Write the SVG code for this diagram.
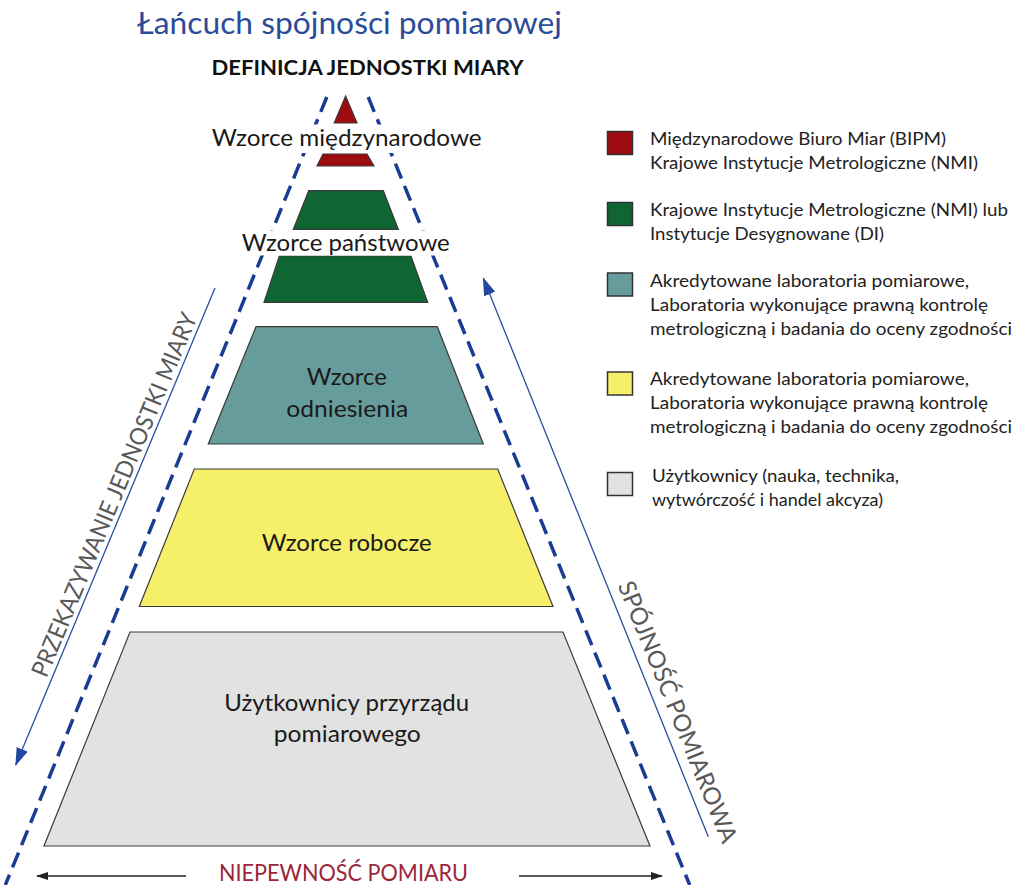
<svg xmlns="http://www.w3.org/2000/svg" width="1013" height="885" viewBox="0 0 1013 885">
<defs>
<style>
text{font-family:Lato,'Open Sans','Liberation Sans',sans-serif}
.lbl{font-size:24px;fill:#1a1a1a;text-anchor:middle}
.leg{font-size:18px;fill:#222}
.shape{stroke:#3a3a3a;stroke-width:1.2}
.box{stroke:#333;stroke-width:1.5}
.dash{fill:none;stroke:#1a3d94;stroke-width:3.5;stroke-dasharray:16 8}
.thin{fill:none;stroke:#2b4f9f;stroke-width:1.3}
.blk{fill:none;stroke:#222;stroke-width:1.5}
.side{font-size:24px;fill:#595959;text-anchor:middle}
.red{fill:#9e0b0f}.green{fill:#0f6632}.teal{fill:#679c9c}.yellow{fill:#f6ef6a}.gray{fill:#e2e2e2}
</style>
<marker id="ah" viewBox="0 0 18 12" refX="17" refY="6" markerWidth="18" markerHeight="12" markerUnits="userSpaceOnUse" orient="auto"><path d="M0,0 L18,6 L0,12 z" fill="#1f47a0"/></marker>
<marker id="ahk" viewBox="0 0 12 8" refX="11" refY="4" markerWidth="12" markerHeight="8" markerUnits="userSpaceOnUse" orient="auto"><path d="M0,0 L12,4 L0,8 z" fill="#222"/></marker>
</defs>
<rect width="1013" height="885" fill="#fff"/>

<g id="connectors">
<path class="dash" d="M326.8,97 L5.3,885"/>
<path class="dash" d="M368.2,97 L689.7,885"/>
<path class="thin" d="M215,288 L15.7,765" marker-end="url(#ah)"/>
<path class="thin" d="M708.3,836.7 L483.3,278.3" marker-end="url(#ah)"/>
<path class="blk" d="M186,876 L37,876" marker-end="url(#ahk)"/>
<path class="blk" d="M519,876 L662,876" marker-end="url(#ahk)"/>
</g>

<g id="titles">
<text x="349.5" y="34" font-size="31" fill="#2b4c9a" text-anchor="middle" textLength="425" lengthAdjust="spacingAndGlyphs">Łańcuch spójności pomiarowej</text>
<text x="367.5" y="75" font-size="21" font-weight="bold" fill="#111" text-anchor="middle" textLength="312" lengthAdjust="spacingAndGlyphs">DEFINICJA JEDNOSTKI MIARY</text>
</g>

<g id="node-international">
<polygon class="shape red" points="345.6,96 357,123 334.2,123"/>
<polygon class="shape red" points="323,154 367,154 374,166 317,166"/>
<rect x="200" y="124.5" width="295" height="28.5" fill="#fff"/>
<text class="lbl" x="346.7" y="146" textLength="270" lengthAdjust="spacingAndGlyphs">Wzorce międzynarodowe</text>
</g>

<g id="node-national">
<polygon class="shape green" points="308.7,190.7 383.3,190.7 398.3,229.3 293.3,229.3"/>
<polygon class="shape green" points="279.3,256 411,256 427.7,302.3 264,302.3"/>
<rect x="230" y="230.5" width="235" height="25" fill="#fff"/>
<text class="lbl" x="345.8" y="251" textLength="208" lengthAdjust="spacingAndGlyphs">Wzorce państwowe</text>
</g>

<g id="node-reference">
<polygon class="shape teal" points="256,326.7 437.3,326.7 483.3,444 208.3,444"/>
<text class="lbl" x="346.8" y="385" textLength="80" lengthAdjust="spacingAndGlyphs">Wzorce</text>
<text class="lbl" x="347.2" y="416.5" textLength="122" lengthAdjust="spacingAndGlyphs">odniesienia</text>
</g>

<g id="node-working">
<polygon class="shape yellow" points="194.3,469 497.7,469 553,606.5 139.3,606.5"/>
<text class="lbl" x="346.7" y="550.7" textLength="170" lengthAdjust="spacingAndGlyphs">Wzorce robocze</text>
</g>

<g id="node-users">
<polygon class="shape gray" points="130,632 563,632 650,846 44,846"/>
<text class="lbl" x="346.7" y="710.7" textLength="245" lengthAdjust="spacingAndGlyphs">Użytkownicy przyrządu</text>
<text class="lbl" x="347.3" y="741.7" textLength="147" lengthAdjust="spacingAndGlyphs">pomiarowego</text>
</g>

<g id="side-labels">
<text class="side" transform="translate(122,498) rotate(-67.3)" textLength="392" lengthAdjust="spacingAndGlyphs">PRZEKAZYWANIE JEDNOSTKI MIARY</text>
<text class="side" transform="translate(670,715) rotate(68)" textLength="280" lengthAdjust="spacingAndGlyphs">SPÓJNOŚĆ POMIAROWA</text>
<text x="343.5" y="881" font-size="23" fill="#9c2638" text-anchor="middle" textLength="249" lengthAdjust="spacingAndGlyphs">NIEPEWNOŚĆ POMIARU</text>
</g>

<g id="legend">
<g id="legend-red">
<rect class="box red" x="607.5" y="131.5" width="25" height="23"/>
<text class="leg" x="650" y="145" textLength="296" lengthAdjust="spacingAndGlyphs">Międzynarodowe Biuro Miar (BIPM)</text>
<text class="leg" x="650" y="169" textLength="328" lengthAdjust="spacingAndGlyphs">Krajowe Instytucje Metrologiczne (NMI)</text>
</g>
<g id="legend-green">
<rect class="box green" x="607.5" y="202.5" width="25" height="23"/>
<text class="leg" x="650" y="216" textLength="358" lengthAdjust="spacingAndGlyphs">Krajowe Instytucje Metrologiczne (NMI) lub</text>
<text class="leg" x="650" y="240" textLength="234" lengthAdjust="spacingAndGlyphs">Instytucje Desygnowane (DI)</text>
</g>
<g id="legend-teal">
<rect class="box teal" x="607.5" y="273" width="25" height="23"/>
<text class="leg" x="650" y="287" textLength="319" lengthAdjust="spacingAndGlyphs">Akredytowane laboratoria pomiarowe,</text>
<text class="leg" x="650" y="311" textLength="338" lengthAdjust="spacingAndGlyphs">Laboratoria wykonujące prawną kontrolę</text>
<text class="leg" x="650" y="335" textLength="362" lengthAdjust="spacingAndGlyphs">metrologiczną i badania do oceny zgodności</text>
</g>
<g id="legend-yellow">
<rect class="box yellow" x="607.5" y="372" width="25" height="23"/>
<text class="leg" x="650" y="385" textLength="319" lengthAdjust="spacingAndGlyphs">Akredytowane laboratoria pomiarowe,</text>
<text class="leg" x="650" y="409" textLength="338" lengthAdjust="spacingAndGlyphs">Laboratoria wykonujące prawną kontrolę</text>
<text class="leg" x="650" y="433" textLength="362" lengthAdjust="spacingAndGlyphs">metrologiczną i badania do oceny zgodności</text>
</g>
<g id="legend-gray">
<rect class="box gray" x="607.5" y="472.5" width="25" height="23"/>
<text class="leg" x="652" y="482" textLength="247" lengthAdjust="spacingAndGlyphs">Użytkownicy (nauka, technika,</text>
<text class="leg" x="652" y="506" textLength="231" lengthAdjust="spacingAndGlyphs">wytwórczość i handel akcyza)</text>
</g>
</g>
</svg>
